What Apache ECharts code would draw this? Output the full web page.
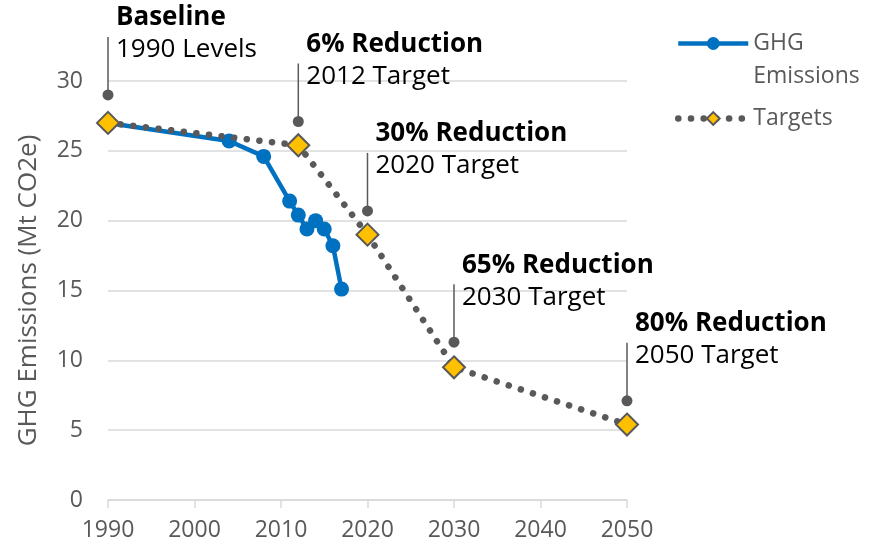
<!DOCTYPE html>
<html>
<head>
  <meta charset="utf-8">
  <title>GHG Emissions vs Targets</title>
  <script src="https://cdn.jsdelivr.net/npm/echarts@6.0.0/dist/echarts.min.js"></script>
</head>
<body style="margin:0">
  <div id="chart" style="width: 880px; height: 545px;"></div>

  <script>
    // emissions history
    const ghgYears = [1990, 2004, 2008, 2011, 2012, 2013, 2014, 2015, 2016, 2017];
    const ghgValues = [27.0, 25.7, 24.6, 21.4, 20.4, 19.4, 20.0, 19.4, 18.2, 15.1];

    // reduction targets
    const targetYears = [1990, 2012, 2020, 2030, 2050];
    const targetValues = [27.0, 25.4, 19.0, 9.5, 5.4];

    // callouts (dot above each target)
    const calloutYears = [1990, 2012, 2020, 2030, 2050];
    const calloutValues = [29.0, 27.1, 20.7, 11.3, 7.1];
    const calloutTitles = ['Baseline', '6% Reduction', '30% Reduction', '65% Reduction', '80% Reduction'];
    const calloutSubtitles = ['1990 Levels', '2012 Target', '2020 Target', '2030 Target', '2050 Target'];

    const FONT = '"Open Sans", "Noto Sans", sans-serif';
    const grey = '#595959';

    const chart = echarts.init(document.getElementById('chart'));

    chart.setOption({
      animation: false,
      textStyle: { fontFamily: FONT },
      grid: { left: 108, right: 253, top: 81, bottom: 45 },
      legend: {
        orient: 'vertical',
        left: 675,
        top: -6,
        padding: 0,
        itemWidth: 70,
        itemHeight: 16,
        itemGap: 9,
        data: ['GHG Emissions', 'Targets'],
        formatter: function (name) {
          return name === 'GHG Emissions' ? ' \nGHG\nEmissions' : name;
        },
        lineStyle: { width: 'inherit' },
        textStyle: { color: grey, fontSize: 23, lineHeight: 33, fontFamily: FONT }
      },
      xAxis: {
        type: 'value',
        min: 1990,
        max: 2050,
        interval: 10,
        splitLine: { show: false },
        axisLine: { lineStyle: { color: '#d9d9d9', width: 1.5 } },
        axisTick: { show: true, length: 8, lineStyle: { color: '#d9d9d9', width: 1.5 } },
        axisLabel: {
          color: grey, fontSize: 23, margin: 19, fontFamily: FONT,
          formatter: function (v) { return String(v); }
        }
      },
      yAxis: {
        type: 'value',
        min: 0,
        max: 30,
        interval: 5,
        name: 'GHG Emissions (Mt CO2e)',
        nameLocation: 'middle',
        nameGap: 66,
        nameTextStyle: { color: grey, fontSize: 26, fontFamily: FONT },
        axisLine: { show: false },
        axisTick: { show: false },
        axisLabel: { color: grey, fontSize: 23, margin: 25, fontFamily: FONT },
        splitLine: { lineStyle: { color: '#d9d9d9', width: 1.5 } }
      },
      series: [
        {
          name: 'callouts',
          type: 'custom',
          clip: false,
          z: 1,
          data: calloutYears.map((y, i) => [y, calloutValues[i], i]),
          renderItem: function (params, api) {
            const p = api.coord([api.value(0), api.value(1)]);
            const i = api.value(2);
            return {
              type: 'group',
              children: [
                { type: 'line', shape: { x1: p[0], y1: p[1], x2: p[0], y2: p[1] - 58 },
                  style: { stroke: grey, lineWidth: 1.5 } },
                { type: 'circle', shape: { cx: p[0], cy: p[1], r: 5.5 }, style: { fill: grey } },
                { type: 'text', x: p[0] + 8, y: p[1] - 77,
                  style: { text: calloutTitles[i], fill: '#000', font: 'bold 26px ' + FONT,
                           align: 'left', verticalAlign: 'middle' } },
                { type: 'text', x: p[0] + 8, y: p[1] - 45,
                  style: { text: calloutSubtitles[i], fill: '#000', font: '26px ' + FONT,
                           align: 'left', verticalAlign: 'middle' } }
              ]
            };
          }
        },
        {
          name: 'GHG Emissions',
          type: 'line',
          z: 2,
          data: ghgYears.map((y, i) => [y, ghgValues[i]]),
          symbol: 'circle',
          symbolSize: 15,
          lineStyle: { color: '#0070C0', width: 4.5 },
          itemStyle: { color: '#0070C0' }
        },
        {
          name: 'Targets',
          type: 'line',
          z: 3,
          data: targetYears.map((y, i) => [y, targetValues[i]]),
          symbol: 'diamond',
          symbolSize: 22,
          lineStyle: { color: grey, width: 6.5, type: [0.1, 12.6], cap: 'round' },
          itemStyle: { color: '#FFC000', borderColor: grey, borderWidth: 2 }
        }
      ]
    });
  </script>
</body>
</html>
